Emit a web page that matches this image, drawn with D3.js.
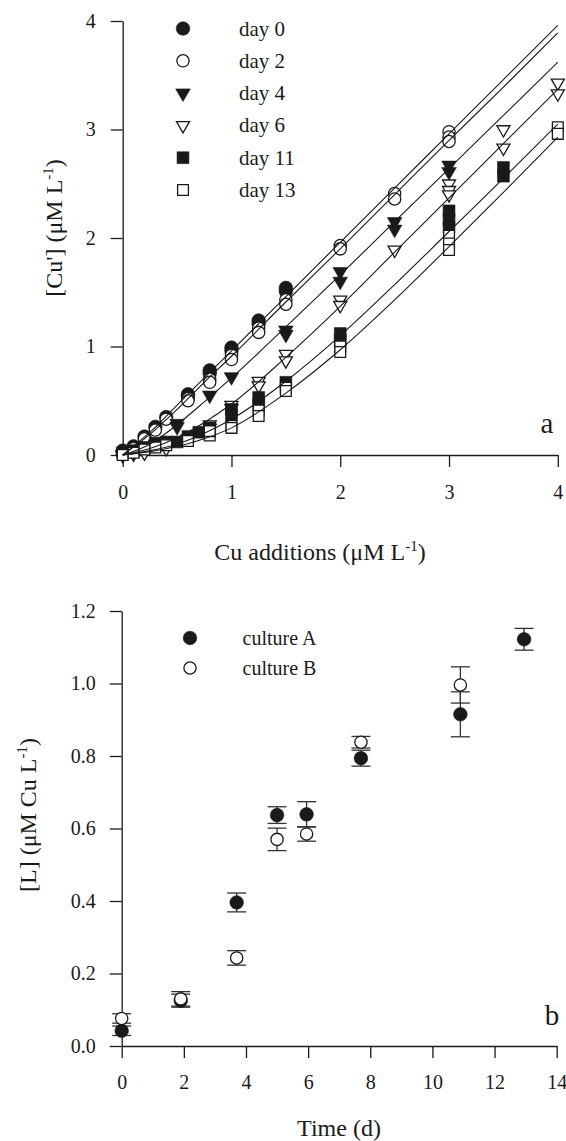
<!DOCTYPE html>
<html>
<head>
<meta charset="utf-8">
<script src="https://cdn.jsdelivr.net/npm/d3@7"></script>
<style>
  body { margin: 0; background: #fff; }
  text { font-family: "Liberation Serif", "Times New Roman", serif; fill: #1a1a1a; }
</style>
</head>
<body>
<div id="chart"></div>
<script>
// ---- panel a data: [Cu'] vs Cu additions ----
var dayLabels = ["day 0", "day 2", "day 4", "day 6", "day 11", "day 13"];

var day0Pts = [[0,0.02],[0,0.04],[0.1,0.08],[0.2,0.17],[0.3,0.26],[0.4,0.35],[0.6,0.56],[0.6,0.54],
  [0.8,0.78],[0.8,0.75],[1,0.99],[1,0.96],[1.25,1.24],[1.25,1.21],[1.5,1.54],[1.5,1.51]];
var day2Pts = [[0,0.01],[0.1,0.06],[0.2,0.15],[0.3,0.23],[0.4,0.33],[0.6,0.52],[0.6,0.5],[0.8,0.7],
  [0.8,0.67],[1,0.92],[1,0.88],[1.25,1.17],[1.25,1.13],[1.5,1.43],[1.5,1.39],[2,1.93],[2,1.9],
  [2.5,2.41],[2.5,2.36],[3,2.98],[3,2.93],[3,2.89]];
var day4Pts = [[0,0],[0.1,0.01],[0.2,0.04],[0.3,0.1],[0.5,0.29],[0.5,0.26],[0.8,0.55],[1,0.72],
  [1.5,1.15],[1.5,1.11],[2,1.69],[2,1.6],[2.5,2.15],[2.5,2.08],[3,2.67],[3,2.61]];
var day6Pts = [[0,0],[0.2,0.02],[0.4,0.06],[0.6,0.15],[0.8,0.28],[0.8,0.25],[1,0.46],[1,0.43],
  [1.25,0.68],[1.25,0.64],[1.5,0.93],[1.5,0.87],[2,1.43],[2,1.38],[2.5,1.89],[3,2.5],[3,2.44],
  [3,2.4],[3.5,3.0],[3.5,2.83],[4,3.43],[4,3.33]];
var day11Pts = [[0,0.02],[0.1,0.04],[0.2,0.07],[0.3,0.11],[0.4,0.12],[0.5,0.12],[0.6,0.17],[0.7,0.21],
  [0.8,0.25],[1,0.42],[1,0.37],[1.25,0.53],[1.25,0.47],[1.5,0.67],[2,1.12],[2,1.06],[3,2.25],
  [3,2.17],[3,2.1],[3.5,2.65],[3.5,2.57]];
var day13Pts = [[0,0],[0.1,0.02],[0.2,0.05],[0.3,0.07],[0.4,0.09],[0.6,0.13],[0.8,0.18],[0.8,0.22],
  [1,0.27],[1,0.25],[1.25,0.41],[1.25,0.36],[1.5,0.62],[1.5,0.59],[2,1.0],[2,0.95],[3,2.02],
  [3,1.95],[3,1.89],[4,3.02],[4,2.96]];

// fitted curves
var fitX = [0, 0.25, 0.5, 0.75, 1, 1.5, 2, 2.5, 3, 3.5, 4];
var fitDay0 = [0, 0.21, 0.46, 0.71, 0.96, 1.46, 1.96, 2.46, 2.96, 3.46, 3.96];
var fitDay2 = [0, 0.19, 0.42, 0.67, 0.91, 1.41, 1.90, 2.40, 2.90, 3.39, 3.89];
var fitDay4 = [0, 0.10, 0.28, 0.49, 0.71, 1.18, 1.66, 2.15, 2.64, 3.13, 3.62];
var fitDay6 = [0, 0.06, 0.16, 0.30, 0.47, 0.90, 1.37, 1.87, 2.37, 2.87, 3.37];
var fitDay11 = [0, 0.04, 0.10, 0.20, 0.33, 0.68, 1.10, 1.57, 2.06, 2.55, 3.05];
var fitDay13 = [0, 0.03, 0.08, 0.15, 0.25, 0.57, 0.97, 1.43, 1.92, 2.42, 2.93];

var axisTicksA = [0, 1, 2, 3, 4];

// ---- panel b data: [L] vs time ----
var legendB = ["culture A", "culture B"];
var timeA = [0, 1.9, 3.7, 5, 5.95, 7.7, 10.9, 12.95];
var ligA  = [0.042, 0.125, 0.396, 0.637, 0.639, 0.794, 0.915, 1.122];
var errA  = [0.013, 0.018, 0.026, 0.023, 0.035, 0.022, 0.062, 0.03];
var timeB = [0, 1.9, 3.7, 5, 5.95, 7.7, 10.9];
var ligB  = [0.076, 0.13, 0.243, 0.57, 0.585, 0.838, 0.996];
var errB  = [0.013, 0.02, 0.02, 0.031, 0.02, 0.016, 0.05];
var timeTicks = [0, 2, 4, 6, 8, 10, 12, 14];
var ligTicks = [0, 0.2, 0.4, 0.6, 0.8, 1.0, 1.2];

var svg = d3.select("#chart").append("svg")
  .attr("width", 566).attr("height", 1141)
  .style("background", "#fff");

var ink = "#1a1a1a";

// marker drawing: kind 0 filled circle, 1 open circle, 2 filled tri down,
// 3 open tri down, 4 filled square, 5 open square
function drawMarker(g, kind, cx, cy) {
  var type = [d3.symbolCircle, d3.symbolCircle, d3.symbolTriangle, d3.symbolTriangle, d3.symbolSquare, d3.symbolSquare][kind];
  var size = [145, 118, 92, 74, 140, 116][kind];
  var filled = kind % 2 === 0;
  var rot = (kind === 2 || kind === 3) ? " rotate(180)" : "";
  g.append("path")
    .attr("d", d3.symbol().type(type).size(size)())
    .attr("transform", "translate(" + cx + "," + cy + ")" + rot)
    .attr("fill", filled ? ink : "#fff")
    .attr("stroke", ink)
    .attr("stroke-width", filled ? 0.6 : 1.3);
}

function styleAxis(g) {
  g.selectAll("path.domain").attr("stroke", ink).attr("stroke-width", 1.3);
  g.selectAll(".tick line").attr("stroke", ink).attr("stroke-width", 1.3);
  g.selectAll(".tick text").attr("font-size", 20)
    .style("font-family", "'Liberation Serif','Times New Roman',serif").attr("fill", ink);
}

// ================= panel a =================
var xA = d3.scaleLinear().domain([0, 4]).range([122.7, 557.8]);
var yA = d3.scaleLinear().domain([0, 4]).range([455, 21]);

var gA = svg.append("g");

gA.append("g").attr("transform", "translate(0,455)")
  .call(d3.axisBottom(xA).tickValues(axisTicksA).tickSize(12).tickSizeOuter(0).tickPadding(18).tickFormat(d3.format("d")))
  .call(styleAxis);
gA.append("g").attr("transform", "translate(122.7,0)")
  .call(d3.axisLeft(yA).tickValues(axisTicksA).tickSize(12).tickSizeOuter(0).tickPadding(15).tickFormat(d3.format("d")))
  .call(styleAxis);

var ptsA = [day0Pts, day2Pts, day4Pts, day6Pts, day11Pts, day13Pts];
ptsA.forEach(function(pts, k) {
  pts.forEach(function(p) { drawMarker(gA, k, xA(p[0]), yA(p[1])); });
});

var fits = [fitDay0, fitDay2, fitDay4, fitDay6, fitDay11, fitDay13];
var line = d3.line()
  .x(function(d) { return xA(d[0]); })
  .y(function(d) { return yA(d[1]); })
  .curve(d3.curveMonotoneX);
fits.forEach(function(f) {
  gA.append("path")
    .datum(fitX.map(function(x, i) { return [x, f[i]]; }))
    .attr("d", line)
    .attr("fill", "none")
    .attr("stroke", ink)
    .attr("stroke-width", 1.1);
});

// legend a
dayLabels.forEach(function(lbl, i) {
  var ly = 28.5 + i * 32.3;
  drawMarker(gA, i, 183, ly);
  gA.append("text").attr("x", 239).attr("y", ly + 7).attr("font-size", 21).text(lbl);
});

gA.append("text").attr("x", 547).attr("y", 433).attr("text-anchor", "middle")
  .attr("font-size", 29).text("a");

// axis titles a
var tx = gA.append("text").attr("x", 320).attr("y", 560).attr("text-anchor", "middle").attr("font-size", 24);
tx.append("tspan").text("Cu additions (\u03BCM L");
tx.append("tspan").attr("dy", -9).attr("font-size", 15).text("-1");
tx.append("tspan").attr("dy", 9).text(")");

var ty = gA.append("text").attr("text-anchor", "middle").attr("font-size", 24)
  .attr("transform", "translate(62,228) rotate(-90)");
ty.append("tspan").text("[Cu'] (\u03BCM L");
ty.append("tspan").attr("dy", -9).attr("font-size", 15).text("-1");
ty.append("tspan").attr("dy", 9).text(")");

// ================= panel b =================
var xB = d3.scaleLinear().domain([0, 14]).range([121.7, 556.7]);
var yB = d3.scaleLinear().domain([0, 1.2]).range([1046, 611]);

var gB = svg.append("g");

gB.append("g").attr("transform", "translate(0,1046)")
  .call(d3.axisBottom(xB).tickValues(timeTicks).tickSize(12).tickSizeOuter(0).tickPadding(17).tickFormat(d3.format("d")))
  .call(styleAxis);
gB.append("g").attr("transform", "translate(121.7,0)")
  .call(d3.axisLeft(yB).tickValues(ligTicks).tickSize(12).tickSizeOuter(0).tickPadding(14).tickFormat(d3.format(".1f")))
  .call(styleAxis);

function errBars(ts, vs, es) {
  ts.forEach(function(t, i) {
    var cx = xB(t), y1 = yB(vs[i] - es[i]), y2 = yB(vs[i] + es[i]);
    gB.append("line").attr("x1", cx).attr("x2", cx).attr("y1", y1).attr("y2", y2)
      .attr("stroke", "#333").attr("stroke-width", 1.3);
    [y1, y2].forEach(function(yy) {
      gB.append("line").attr("x1", cx - 9.5).attr("x2", cx + 9.5).attr("y1", yy).attr("y2", yy)
        .attr("stroke", "#333").attr("stroke-width", 1.3);
    });
  });
}
errBars(timeA, ligA, errA);
errBars(timeB, ligB, errB);
timeA.forEach(function(t, i) { drawMarker(gB, 0, xB(t), yB(ligA[i])); });
timeB.forEach(function(t, i) { drawMarker(gB, 1, xB(t), yB(ligB[i])); });

// legend b
legendB.forEach(function(lbl, i) {
  var ly = 638 + i * 30;
  drawMarker(gB, i, 190, ly);
  gB.append("text").attr("x", 242.6).attr("y", ly + 7).attr("font-size", 20).text(lbl);
});

gB.append("text").attr("x", 552).attr("y", 1025).attr("text-anchor", "middle")
  .attr("font-size", 29).text("b");

gB.append("text").attr("x", 339).attr("y", 1136).attr("text-anchor", "middle")
  .attr("font-size", 24).text("Time (d)");

var tyB = gB.append("text").attr("text-anchor", "middle").attr("font-size", 24)
  .attr("transform", "translate(36,815) rotate(-90)");
tyB.append("tspan").text("[L] (\u03BCM Cu L");
tyB.append("tspan").attr("dy", -9).attr("font-size", 15).text("-1");
tyB.append("tspan").attr("dy", 9).text(")");
</script>
</body>
</html>
